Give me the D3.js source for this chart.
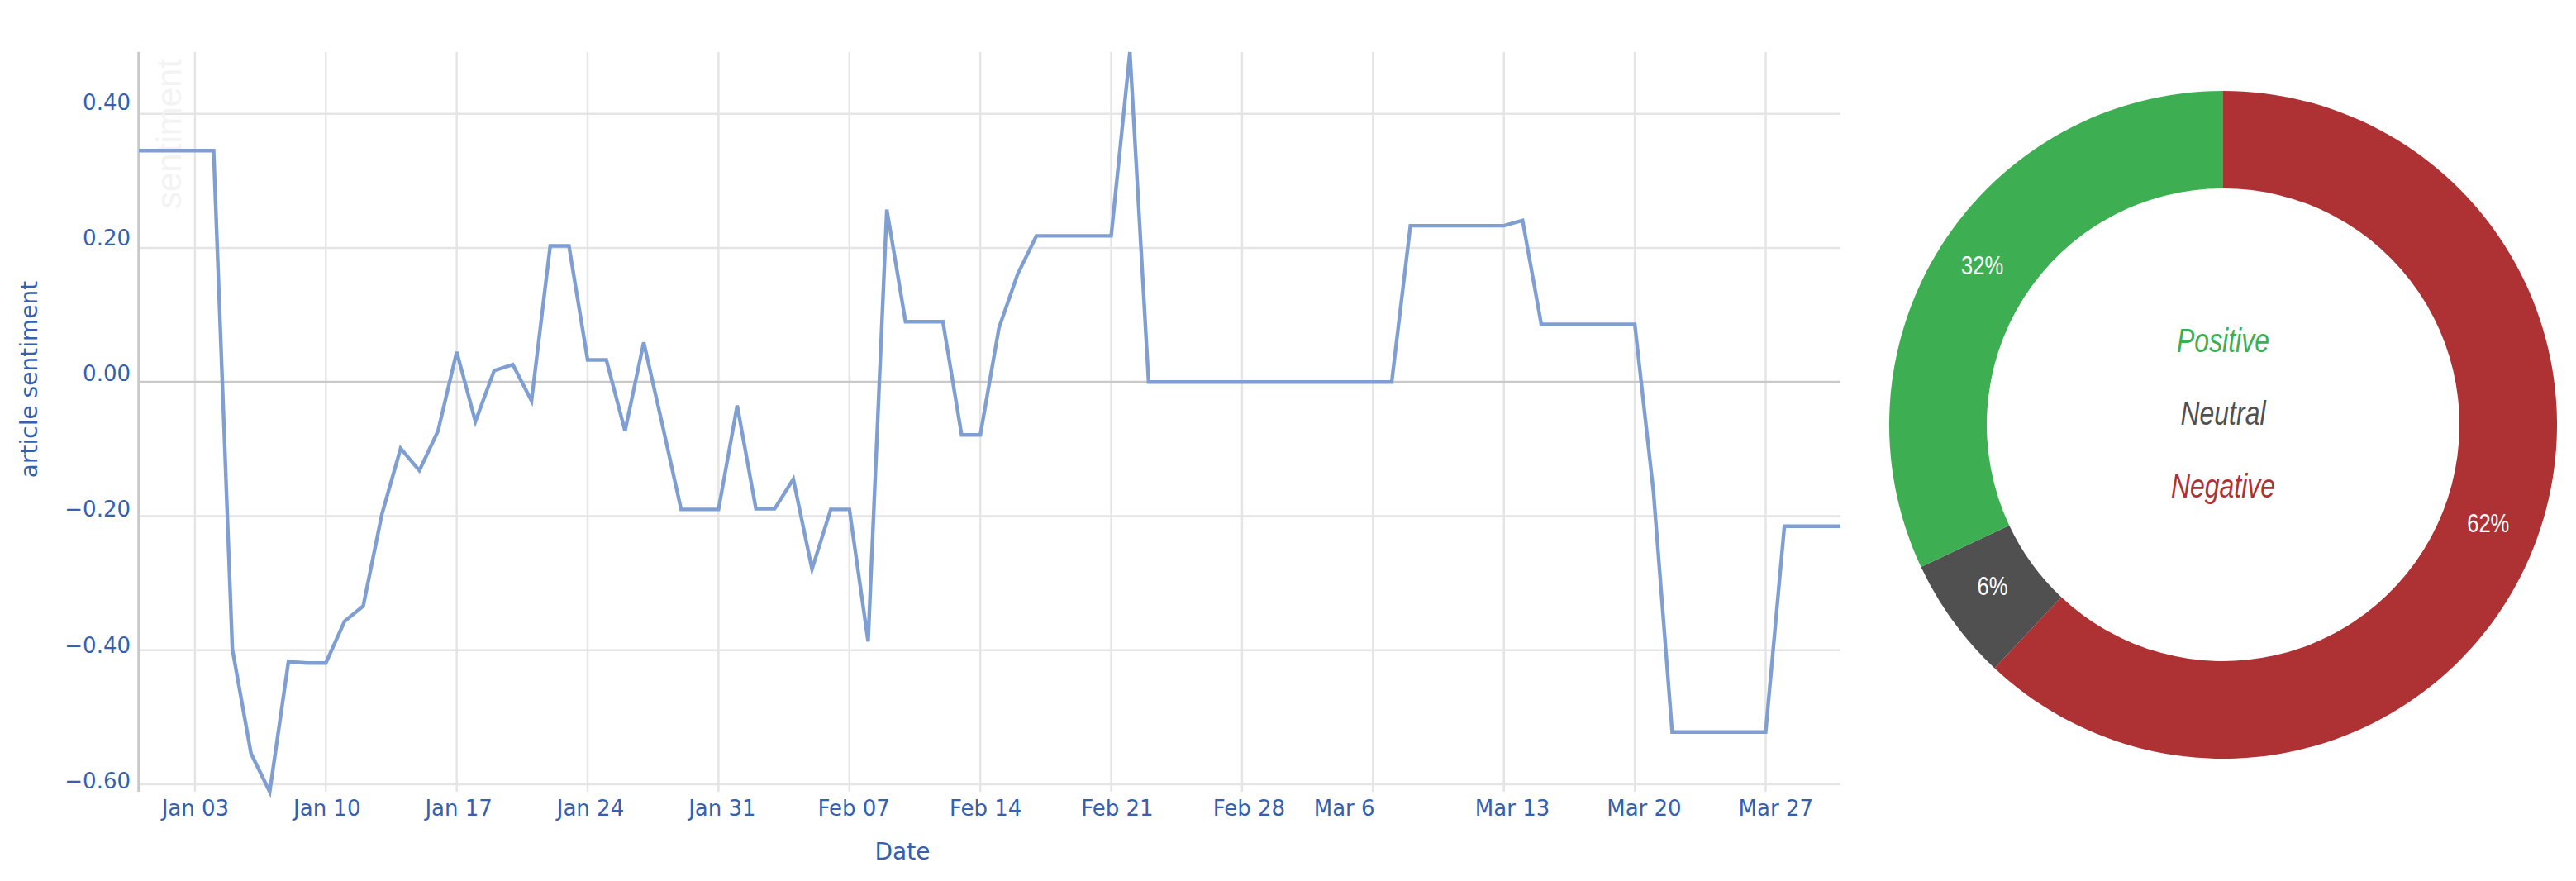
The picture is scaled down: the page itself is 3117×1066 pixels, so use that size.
<!DOCTYPE html>
<html><head><meta charset="utf-8">
<script src="https://cdn.jsdelivr.net/npm/d3@7"></script>
<style>body{margin:0;background:#fff;} svg{display:block}</style>
</head><body>
<svg id="c" width="3117" height="1066"></svg>
<script>
// ---------------- data ----------------
const startDate = "2015-12-31";
const endDate = "2016-03-31";
// daily average article sentiment, Dec 31 2015 .. Mar 31 2016
const sentiment = [
  0.345, 0.345, 0.345, 0.345, 0.345, -0.398, -0.554, -0.611, -0.417, -0.419,
  -0.419, -0.357, -0.334, -0.197, -0.099, -0.132, -0.073, 0.045, -0.059, 0.017,
  0.026, -0.028, 0.203, 0.203, 0.033, 0.033, -0.073, 0.059, -0.064, -0.190,
  -0.190, -0.190, -0.035, -0.189, -0.189, -0.145, -0.279, -0.190, -0.190, -0.387,
  0.257, 0.090, 0.090, 0.090, -0.079, -0.079, 0.081, 0.161, 0.218, 0.218,
  0.218, 0.218, 0.218, 0.492, 0.000, 0.000, 0.000, 0.000, 0.000, 0.000,
  0.000, 0.000, 0.000, 0.000, 0.000, 0.000, 0.000, 0.000, 0.233, 0.233,
  0.233, 0.233, 0.233, 0.233, 0.241, 0.086, 0.086, 0.086, 0.086, 0.086,
  0.086, -0.164, -0.522, -0.522, -0.522, -0.522, -0.522, -0.522, -0.215, -0.215,
  -0.215, -0.215
];
const xTickDates = ["2016-01-03","2016-01-10","2016-01-17","2016-01-24","2016-01-31","2016-02-07",
  "2016-02-14","2016-02-21","2016-02-28","2016-03-06","2016-03-13","2016-03-20","2016-03-27"];
const xTickLabels = ["Jan 03","Jan 10","Jan 17","Jan 24","Jan 31","Feb 07","Feb 14","Feb 21",
  "Feb 28","Mar 6","Mar 13","Mar 20","Mar 27"];
const yTickValues = [-0.6, -0.4, -0.2, 0, 0.2, 0.4];
const yTickLabels = ["\u22120.60","\u22120.40","\u22120.20","0.00","0.20","0.40"];
const donutCategories = ["Negative","Neutral","Positive"];
const donutValues = [62, 6, 32];
const centerLegend = ["Positive","Neutral","Negative"];

// ---------------- styles ----------------
const colorOf = {Negative:"#ae3134", Neutral:"#505050", Positive:"#3dae51"};
const axisBlue = "#3560b0";
const lineColor = "#7f9fd3";

const svg = d3.select("#c");
const plot = {left:168, right:2227, top:63, bottom:958};
const parse = d3.utcParse("%Y-%m-%d");
const dates = d3.utcDays(parse(startDate), d3.utcDay.offset(parse(endDate), 1));
const data = dates.map((d,i)=>({date:d, value:sentiment[i]}));

const x = d3.scaleUtc().domain(d3.extent(dates)).range([plot.left, plot.right]);
const y = d3.scaleLinear().domain(d3.extent(sentiment)).range([plot.bottom, plot.top]);
const yLab = d3.scaleLinear().domain([-0.6, 0.4]).range([944, 123]);
const tickDates = xTickDates.map(parse);

// grid
const g = svg.append("g");
g.selectAll("line.vg").data(tickDates).join("line")
  .attr("x1", d=>x(d)).attr("x2", d=>x(d))
  .attr("y1", plot.top).attr("y2", plot.bottom)
  .attr("stroke", "#e5e5e5").attr("stroke-width", 2.5);
g.selectAll("line.hg").data(yTickValues.filter(v=>v!==0)).join("line")
  .attr("x1", plot.left).attr("x2", plot.right)
  .attr("y1", d=>y(d)).attr("y2", d=>y(d))
  .attr("stroke", "#e5e5e5").attr("stroke-width", 2.5);
// zero line
g.append("line").attr("x1", plot.left).attr("x2", plot.right)
  .attr("y1", y(0)).attr("y2", y(0)).attr("stroke", "#c9c9c9").attr("stroke-width", 3);

// faint watermark
svg.append("text").attr("transform", `translate(219,253) rotate(-90)`)
  .attr("font-family", "Liberation Sans, Arial, sans-serif").attr("font-size", 42)
  .attr("fill", "#f3f3f3").text("sentiment");

// y axis line
svg.append("line").attr("x1", plot.left).attr("x2", plot.left)
  .attr("y1", plot.top).attr("y2", plot.bottom)
  .attr("stroke", "#c9c9c9").attr("stroke-width", 3.5);

// line
svg.append("path").datum(data)
  .attr("d", d3.line().x(d=>x(d.date)).y(d=>y(d.value)))
  .attr("fill", "none").attr("stroke", lineColor).attr("stroke-width", 4.4)
  .attr("stroke-linejoin", "miter");

// x axis
const xAxis = svg.append("g").attr("transform", `translate(0,${plot.bottom})`)
  .call(d3.axisBottom(x).tickValues(tickDates).tickFormat((d,i)=>xTickLabels[i]).tickSize(0).tickPadding(11));
xAxis.select(".domain").remove();
const labelShift = {"Mar 6": -44};
const x0 = x(tickDates[0]);
xAxis.selectAll("text").attr("font-family", "DejaVu Sans, sans-serif").attr("font-size", 26).attr("fill", axisBlue)
  .attr("dx", function(d){ const t = d3.select(this).text(); return (x(d)-x0)*0.0062 + (labelShift[t]||0); });

// y axis
const yAxis = svg.append("g").attr("transform", `translate(${plot.left},0)`)
  .call(d3.axisLeft(y).tickValues(yTickValues).tickFormat((d,i)=>yTickLabels[i]).tickSize(0).tickPadding(10));
yAxis.select(".domain").remove();
yAxis.selectAll("text").attr("font-family", "DejaVu Sans, sans-serif").attr("font-size", 26).attr("fill", axisBlue)
  .attr("y", d=>yLab(d)-y(d)+1);

// axis titles
svg.append("text").attr("x", 1092).attr("y", 1040).attr("text-anchor", "middle")
  .attr("font-family", "DejaVu Sans, sans-serif").attr("font-size", 28).attr("fill", axisBlue).text("Date");
svg.append("text").attr("transform", "translate(45,459) rotate(-90)").attr("text-anchor", "middle")
  .attr("font-family", "DejaVu Sans, sans-serif").attr("font-size", 28).attr("fill", axisBlue).text("article sentiment");

// donut
const cx = 2690, cy = 514, rOut = 404, rIn = 286;
const dg = svg.append("g").attr("transform", `translate(${cx},${cy})`);
const pie = d3.pie().sort(null).value(d=>d.v)(donutCategories.map((c,i)=>({c, v:donutValues[i]})));
const arc = d3.arc().innerRadius(rIn).outerRadius(rOut);
const total = d3.sum(donutValues);
dg.selectAll("path").data(pie).join("path").attr("d", arc).attr("fill", d=>colorOf[d.data.c]);
const narrow = "'Liberation Sans Narrow', 'Arial Narrow', 'Liberation Sans', Arial, sans-serif";
const pctDy = -8;
const pct = dg.selectAll("text.p").data(pie).join("text")
  .attr("text-anchor", "middle").attr("dominant-baseline", "central")
  .attr("font-family", narrow).attr("font-size", 32).attr("fill", "#fff")
  .attr("x", d=>arc.centroid(d)[0]).attr("y", d=>arc.centroid(d)[1] + pctDy)
  .text(d=>Math.round(d.data.v/total*100)+"%");
const legendY = {Positive:-88, Neutral:0, Negative:88};
const leg = dg.selectAll("text.l").data(centerLegend).join("text")
  .attr("text-anchor", "middle").attr("x", 0).attr("y", d=>legendY[d])
  .attr("font-family", narrow).attr("font-style", "italic").attr("font-size", 40)
  .attr("fill", d=>colorOf[d]).text(d=>d);

// condense if narrow font is unavailable
const w = leg.filter(d=>d==="Positive").node().getComputedTextLength();
if (w > 125) {
  const k = 112 / w;
  leg.attr("transform", d=>`translate(0,${legendY[d]}) scale(${k},1) translate(0,${-legendY[d]})`);
  pct.attr("transform", d=>{const [a,b]=arc.centroid(d); return `translate(${a},${b+pctDy}) scale(${k},1) translate(${-a},${-(b+pctDy)})`;});
}
</script>
</body></html>
